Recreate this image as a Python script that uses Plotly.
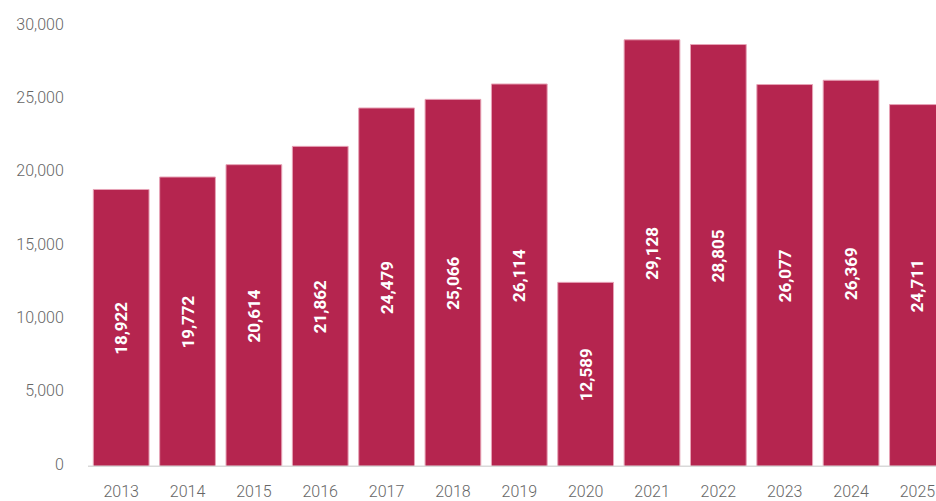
import plotly.graph_objects as go

years = ["2013", "2014", "2015", "2016", "2017", "2018", "2019", "2020", "2021", "2022", "2023", "2024", "2025"]
values = [18922, 19772, 20614, 21862, 24479, 25066, 26114, 12589, 29128, 28805, 26077, 26369, 24711]
y_ticks = [0, 5000, 10000, 15000, 20000, 25000, 30000]

fig = go.Figure(go.Bar(
    x=years,
    y=values,
    marker=dict(color="#B5254F", line=dict(color="#E7A3B6", width=1)),
    text=[f"{v:,}" for v in values],
    textposition="inside",
    insidetextanchor="middle",
    textangle=-90,
    textfont=dict(family="Roboto", size=17, color="white", weight="bold"),
    width=0.84,
    cliponaxis=True,
))

fig.add_shape(
    type="line", xref="paper", yref="y",
    x0=0, x1=1, y0=0, y1=0,
    line=dict(color="#D9D9D9", width=3),
    layer="above",
)

fig.update_layout(
    width=936, height=501,
    margin=dict(l=88, r=0, t=27, b=31),
    paper_bgcolor="white", plot_bgcolor="white",
    showlegend=False,
    font=dict(family="Roboto", color="#666666", size=16),
)
fig.update_xaxes(
    type="category",
    range=[-0.5, 12.28],
    showgrid=False, showline=False,
    ticks="outside", ticklen=10, tickcolor="rgba(0,0,0,0)",
    tickfont=dict(family="Roboto", size=16, color="#666666", weight=300),
)
fig.update_yaxes(
    range=[0, 30000],
    tickvals=y_ticks,
    tickformat=",",
    showgrid=False, zeroline=False, showline=False,
    ticks="outside", ticklen=20, tickcolor="rgba(0,0,0,0)",
    ticklabelshift=-3,
    tickfont=dict(family="Roboto", size=16, color="#666666", weight=300),
)

fig.write_html(
    "out.html",
    config={"displayModeBar": False},
    post_script="document.body.style.margin='0';document.body.style.overflow='hidden';",
)
